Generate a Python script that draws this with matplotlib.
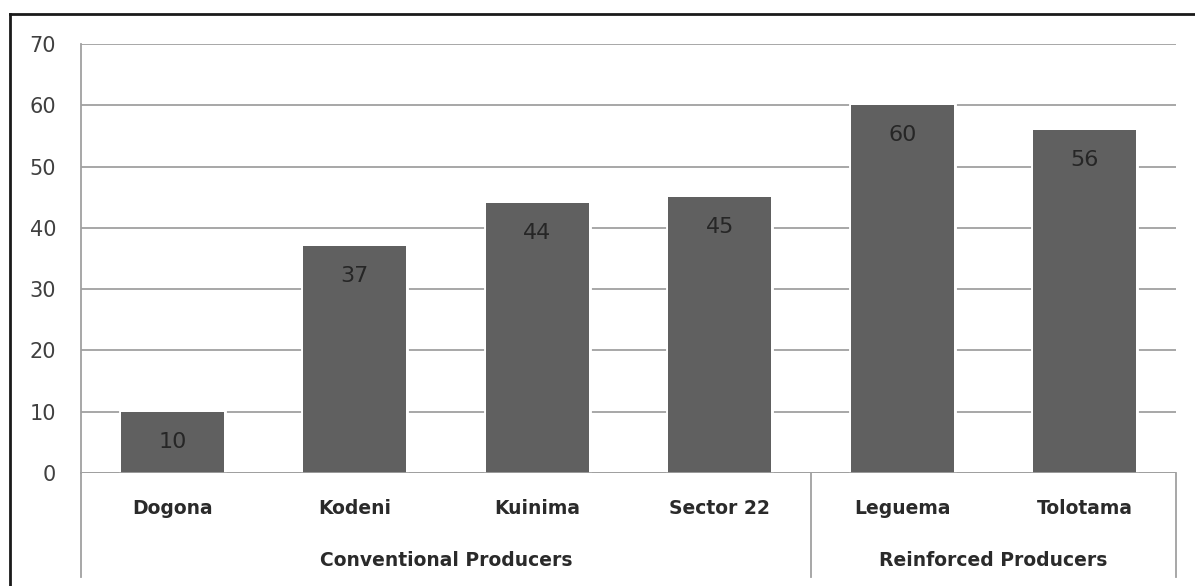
import matplotlib.pyplot as plt
from matplotlib.lines import Line2D

# producer sites and their values
sites = ["Dogona", "Kodeni", "Kuinima", "Sector 22", "Leguema", "Tolotama"]
values = [10, 37, 44, 45, 60, 56]
groups = ["Conventional Producers", "Reinforced Producers"]
group_sizes = [4, 2]
yticks = [0, 10, 20, 30, 40, 50, 60, 70]

plt.rcParams["font.family"] = ["DejaVu Sans"]

fig = plt.figure(figsize=(11.95, 5.86), dpi=100)
ax = fig.add_axes([0.0678, 0.1928, 0.9163, 0.7321])

x = list(range(len(sites)))
bar_w = 0.565
# white halo behind each bar so the gridlines stop short of it
ax.bar(x, values, width=bar_w, color="white", edgecolor="white",
       linewidth=3.5, zorder=2)
ax.bar(x, values, width=bar_w, color="#606060", linewidth=0, zorder=3)
for xi, v in zip(x, values):
    ax.annotate(str(v), (xi, v), xytext=(0, -30), textcoords="offset pixels",
                ha="center", va="center", fontsize=16, color="#262626",
                zorder=4)
ax.axhline(0, color="#a0a0a0", linewidth=1.3, zorder=5)

ax.set_xlim(-0.5, len(sites) - 0.5)
ax.set_ylim(0, 70)
ax.set_yticks(yticks)
ax.yaxis.grid(True, color="#a0a0a0", linewidth=1.3, zorder=0)
ax.tick_params(axis="y", length=0, pad=18, labelsize=15, labelcolor="#404040")
ax.set_xticks([])
for s in ["top", "right", "bottom"]:
    ax.spines[s].set_visible(False)
ax.spines["left"].set_color("#a0a0a0")
ax.spines["left"].set_linewidth(1.3)

# two-level category axis below the plot
tr = ax.get_xaxis_transform()
low = -0.2424
ax.add_line(Line2D([-0.5, -0.5], [0, low], transform=tr, color="#a0a0a0",
                   linewidth=1.3, clip_on=False))
for xi, name in zip(x, sites):
    ax.text(xi, -0.083, name, transform=tr, ha="center", va="center",
            fontsize=13.5, fontweight="bold", color="#2a2a2a")
start = -0.5
for g, n in zip(groups, group_sizes):
    end = start + n
    ax.add_line(Line2D([end, end], [0, low], transform=tr, color="#a0a0a0",
                       linewidth=1.3, clip_on=False))
    ax.text((start + end) / 2, -0.205, g, transform=tr, ha="center",
            va="center", fontsize=13.5, fontweight="bold", color="#2a2a2a")
    start = end

# frame lines along the top and left edge
fig.add_artist(Line2D([10 / 1195, 1], [1 - 14 / 586, 1 - 14 / 586],
                      color="#1a1a1a", linewidth=2))
fig.add_artist(Line2D([10 / 1195, 10 / 1195], [0, 1 - 14 / 586],
                      color="#1a1a1a", linewidth=2))

fig.savefig("out.png", dpi=100)
